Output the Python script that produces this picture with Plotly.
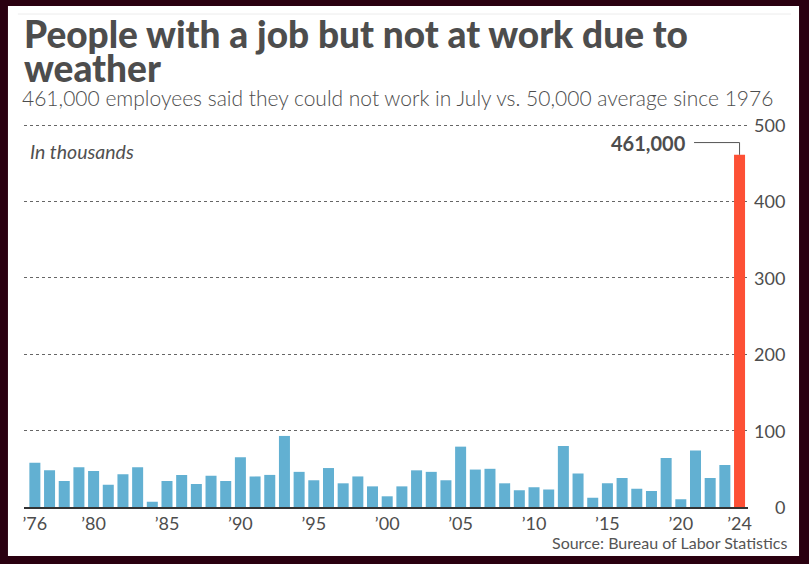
import plotly.graph_objects as go

W, H = 809, 564

# data (thousands of people, July each year)
years = list(range(1976, 2025))
values = [58, 48, 34, 52, 47, 29, 43, 52, 7, 34,
          42, 30, 41, 34, 65, 40, 42, 93, 46, 35,
          51, 31, 40, 27, 14, 27, 48, 46, 35, 79,
          49, 50, 31, 22, 26, 23, 80, 44, 12, 31,
          38, 24, 21, 64, 10, 74, 38, 55, 461]
tick_years = [1976, 1980, 1985, 1990, 1995, 2000, 2005, 2010, 2015, 2020, 2024]
tick_text = ["\u201976", "\u201980", "\u201985", "\u201990", "\u201995", "\u201900",
             "\u201905", "\u201910", "\u201915", "\u201920", "\u201924"]
y_ticks = [0, 100, 200, 300, 400, 500]

BLUE = "#62b0d2"
RED = "#fd5035"
TXT = "#4d4d4d"
FONT = "Lato"


def px(x):
    return x / W


def py(y):
    return 1 - y / H


colors = [BLUE] * (len(values) - 1) + [RED]

fig = go.Figure()
fig.add_trace(go.Bar(x=years, y=values, marker=dict(color=colors, line=dict(width=0)),
                     hoverinfo="x+y"))

# white card on the dark frame
fig.add_shape(type="rect", xref="paper", yref="paper", x0=px(7), x1=px(803), y0=py(556), y1=py(6),
              fillcolor="white", line=dict(width=0), layer="below")
fig.add_shape(type="line", xref="paper", yref="paper", x0=px(17), x1=px(795), y0=py(14), y1=py(14),
              line=dict(color="#ececec", width=1))

# connector for the 2024 label
peak = values[-1]
fig.add_shape(type="path", xref="x", yref="y",
              path=f"M {years[-1] - 3.1},{peak + 16} H {years[-1]} V {peak}",
              line=dict(color="#555555", width=1))
fig.add_annotation(x=years[-1] - 3.5, y=peak + 16, xref="x", yref="y", text="<b>461,000</b>",
                   showarrow=False, xanchor="right", yanchor="middle",
                   font=dict(family=FONT, size=20, color=TXT))

# y tick labels right aligned
for v in y_ticks:
    fig.add_annotation(x=px(791), xref="paper", y=v, yref="y", text=str(v), showarrow=False,
                       xanchor="right", yanchor="middle", font=dict(family=FONT, size=18, color=TXT))

fig.add_annotation(x=px(21), y=py(33), xref="paper", yref="paper", xanchor="left", yanchor="middle",
                   text="People with a job but not at work due to", showarrow=False,
                   font=dict(family=FONT, size=37, color=TXT, weight=900))
fig.add_annotation(x=px(21), y=py(68), xref="paper", yref="paper", xanchor="left", yanchor="middle",
                   text="weather", showarrow=False,
                   font=dict(family=FONT, size=37, color=TXT, weight=900))
fig.add_annotation(x=px(19), y=py(98), xref="paper", yref="paper", xanchor="left", yanchor="middle",
                   text="461,000 employees said they could not work in July vs. 50,000 average since 1976",
                   showarrow=False, font=dict(family=FONT, size=21, color=TXT, weight=300))
fig.add_annotation(x=px(27), y=py(152), xref="paper", yref="paper", xanchor="left", yanchor="middle",
                   text="<i>In thousands</i>", showarrow=False,
                   font=dict(family=FONT, size=19.5, color="#505050"))
fig.add_annotation(x=px(793), y=py(542), xref="paper", yref="paper", xanchor="right", yanchor="middle",
                   text="Source: Bureau of Labor Statistics", showarrow=False,
                   font=dict(family=FONT, size=16, color="#555555"))

fig.update_layout(
    width=W, height=H,
    margin=dict(l=0, r=0, t=0, b=0),
    paper_bgcolor="#2a0010",
    plot_bgcolor="rgba(0,0,0,0)",
    showlegend=False,
    bargap=0.25,
    xaxis=dict(domain=[px(23), px(752)], range=[1975.25, 2024.6],
               tickmode="array", tickvals=tick_years, ticktext=tick_text,
               showgrid=False, showline=True, linecolor="#333333", linewidth=1.5,
               ticks="", tickfont=dict(family=FONT, size=18, color=TXT), zeroline=False),
    yaxis=dict(domain=[py(507), py(507 - 510 * 0.764)], range=[0, 510],
               tickvals=y_ticks, showticklabels=False, showgrid=True,
               gridcolor="#666666", griddash="dot", gridwidth=1, zeroline=False),
)

fig.write_html("out.html", config={"displayModeBar": False},
               post_script="document.body.style.margin='0';")
